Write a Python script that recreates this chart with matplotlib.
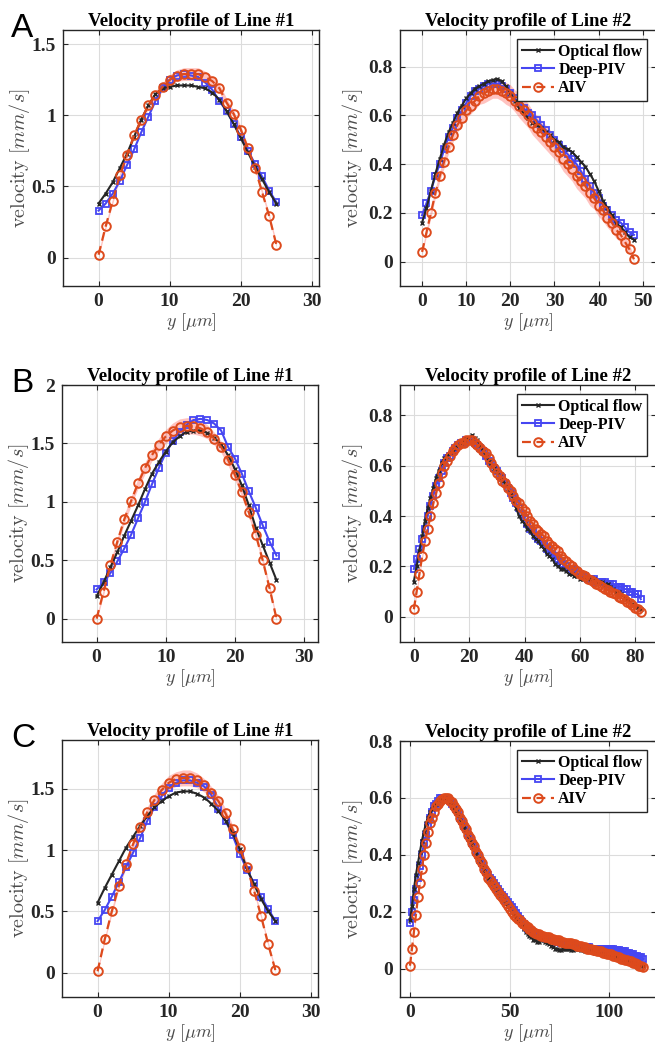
#!/usr/bin/env python
"""Velocity profiles of Line #1 / Line #2 for three cases (A, B, C): optical flow vs Deep-PIV vs AIV."""

import matplotlib

matplotlib.use("Agg")
import matplotlib.pyplot as plt
import numpy as np
from matplotlib.ticker import FuncFormatter

plt.rcParams["mathtext.fontset"] = "cm"
plt.rcParams["font.family"] = ["Liberation Serif", "DejaVu Serif"]

SERIES_NAMES = ["Optical flow", "Deep-PIV", "AIV"]

# ---- case A ----
A1_OPTICAL = [0.38, 0.45, 0.53, 0.63, 0.73, 0.85, 0.97, 1.07, 1.15, 1.19, 1.20, 1.21, 1.21, 1.21,
              1.20, 1.19, 1.16, 1.11, 1.03, 0.94, 0.84, 0.74, 0.64, 0.55, 0.46, 0.38]
A1_DEEPPIV = [0.33, 0.38, 0.45, 0.54, 0.65, 0.76, 0.88, 0.99, 1.10, 1.19, 1.25, 1.28, 1.29, 1.28,
              1.27, 1.23, 1.18, 1.10, 1.03, 0.94, 0.85, 0.75, 0.66, 0.57, 0.47, 0.39]
A1_AIV = [0.02, 0.22, 0.40, 0.58, 0.72, 0.86, 0.97, 1.07, 1.14, 1.20, 1.25, 1.28, 1.29, 1.29,
          1.29, 1.27, 1.24, 1.19, 1.09, 1.01, 0.90, 0.77, 0.63, 0.46, 0.29, 0.09]
A1_SPREAD = [0.02, 0.02, 0.02, 0.02, 0.02, 0.02, 0.025, 0.025, 0.03, 0.03, 0.035, 0.04, 0.045,
             0.045, 0.045, 0.04, 0.035, 0.03, 0.03, 0.025, 0.025, 0.02, 0.02, 0.02, 0.02, 0.02]

A2_OPTICAL = [0.16, 0.22, 0.29, 0.36, 0.42, 0.48, 0.53, 0.57, 0.61, 0.64, 0.67, 0.69, 0.71, 0.72,
              0.73, 0.74, 0.745, 0.75, 0.74, 0.72, 0.69, 0.66, 0.63, 0.61, 0.59, 0.57, 0.56, 0.55,
              0.53, 0.52, 0.50, 0.49, 0.47, 0.46, 0.45, 0.43, 0.41, 0.39, 0.36, 0.33, 0.29, 0.25,
              0.22, 0.19, 0.16, 0.14, 0.12, 0.10, 0.09]
A2_DEEPPIV = [0.19, 0.24, 0.29, 0.35, 0.40, 0.46, 0.51, 0.55, 0.59, 0.62, 0.65, 0.68, 0.70, 0.71,
              0.72, 0.73, 0.73, 0.73, 0.72, 0.71, 0.69, 0.67, 0.65, 0.63, 0.61, 0.60, 0.58, 0.56,
              0.54, 0.52, 0.50, 0.48, 0.46, 0.44, 0.42, 0.40, 0.37, 0.34, 0.31, 0.28, 0.26, 0.23,
              0.21, 0.19, 0.17, 0.16, 0.14, 0.12, 0.11]
A2_AIV = [0.04, 0.12, 0.20, 0.28, 0.35, 0.41, 0.47, 0.52, 0.56, 0.59, 0.62, 0.64, 0.66, 0.68,
          0.69, 0.70, 0.71, 0.71, 0.70, 0.69, 0.68, 0.66, 0.64, 0.62, 0.60, 0.57, 0.55, 0.53,
          0.51, 0.49, 0.47, 0.45, 0.42, 0.40, 0.38, 0.35, 0.33, 0.31, 0.28, 0.26, 0.23, 0.21,
          0.18, 0.16, 0.13, 0.11, 0.08, 0.05, 0.01]
A2_SPREAD = [0.01, 0.015, 0.02, 0.02, 0.02, 0.025, 0.025, 0.03, 0.03, 0.03, 0.03, 0.035, 0.035,
             0.035, 0.04, 0.04, 0.04, 0.04, 0.04, 0.045, 0.045, 0.045, 0.05, 0.05, 0.05, 0.05,
             0.05, 0.05, 0.05, 0.05, 0.05, 0.05, 0.05, 0.05, 0.05, 0.05, 0.05, 0.05, 0.05, 0.045,
             0.045, 0.045, 0.04, 0.04, 0.035, 0.03, 0.025, 0.02, 0.01]

# ---- case B ----
B1_OPTICAL = [0.19, 0.31, 0.44, 0.57, 0.71, 0.84, 0.97, 1.11, 1.24, 1.34, 1.43, 1.51, 1.56, 1.60,
              1.61, 1.61, 1.59, 1.55, 1.49, 1.40, 1.28, 1.14, 0.97, 0.78, 0.63, 0.48, 0.33]
B1_DEEPPIV = [0.25, 0.31, 0.39, 0.49, 0.60, 0.72, 0.86, 1.00, 1.15, 1.29, 1.42, 1.52, 1.60, 1.66,
              1.70, 1.71, 1.70, 1.67, 1.61, 1.47, 1.37, 1.24, 1.09, 0.95, 0.80, 0.66, 0.54]
B1_AIV = [0.00, 0.23, 0.46, 0.66, 0.85, 1.01, 1.16, 1.29, 1.40, 1.49, 1.56, 1.61, 1.64, 1.65,
          1.65, 1.63, 1.60, 1.54, 1.47, 1.36, 1.23, 1.08, 0.91, 0.72, 0.50, 0.26, 0.00]
B1_SPREAD = [0.02, 0.03, 0.03, 0.035, 0.04, 0.04, 0.045, 0.05, 0.05, 0.055, 0.06, 0.065, 0.07,
             0.07, 0.07, 0.065, 0.06, 0.055, 0.05, 0.05, 0.045, 0.04, 0.04, 0.035, 0.03, 0.03, 0.02]

B2_OPTICAL = [0.14, 0.20, 0.26, 0.32, 0.38, 0.43, 0.47, 0.51, 0.55, 0.58, 0.61, 0.63, 0.64, 0.65,
              0.66, 0.67, 0.68, 0.69, 0.70, 0.71, 0.71, 0.72, 0.71, 0.70, 0.68, 0.66, 0.64, 0.62,
              0.60, 0.59, 0.58, 0.56, 0.54, 0.53, 0.51, 0.49, 0.46, 0.43, 0.40, 0.38, 0.37, 0.35,
              0.34, 0.32, 0.31, 0.30, 0.28, 0.27, 0.25, 0.24, 0.23, 0.21, 0.20, 0.19, 0.19, 0.18,
              0.17, 0.17, 0.16, 0.16, 0.15, 0.15, 0.15, 0.15, 0.15, 0.15, 0.14, 0.14, 0.14, 0.13,
              0.13, 0.12, 0.11, 0.10, 0.10, 0.09, 0.08, 0.07, 0.06, 0.05, 0.04, 0.04, 0.03]
B2_DEEPPIV = [0.19, 0.23, 0.27, 0.31, 0.35, 0.40, 0.44, 0.48, 0.52, 0.55, 0.58, 0.61, 0.63, 0.64,
              0.66, 0.67, 0.68, 0.69, 0.69, 0.70, 0.70, 0.70, 0.69, 0.68, 0.67, 0.66, 0.64, 0.62,
              0.61, 0.59, 0.58, 0.56, 0.55, 0.53, 0.51, 0.49, 0.47, 0.45, 0.43, 0.41, 0.39, 0.37,
              0.35, 0.34, 0.32, 0.31, 0.30, 0.29, 0.27, 0.26, 0.25, 0.24, 0.23, 0.22, 0.21, 0.20,
              0.19, 0.19, 0.18, 0.17, 0.17, 0.16, 0.16, 0.15, 0.15, 0.15, 0.14, 0.14, 0.14, 0.14,
              0.13, 0.13, 0.13, 0.12, 0.12, 0.12, 0.11, 0.11, 0.10, 0.10, 0.09, 0.09, 0.07]
B2_AIV = [0.03, 0.10, 0.17, 0.24, 0.30, 0.35, 0.40, 0.45, 0.49, 0.53, 0.57, 0.60, 0.62, 0.64,
          0.66, 0.67, 0.68, 0.69, 0.69, 0.70, 0.70, 0.70, 0.69, 0.68, 0.67, 0.66, 0.65, 0.63,
          0.61, 0.59, 0.57, 0.56, 0.54, 0.53, 0.51, 0.50, 0.48, 0.46, 0.45, 0.43, 0.42, 0.40,
          0.38, 0.37, 0.35, 0.34, 0.33, 0.32, 0.30, 0.29, 0.28, 0.27, 0.26, 0.24, 0.23, 0.22,
          0.21, 0.20, 0.19, 0.18, 0.17, 0.165, 0.16, 0.15, 0.145, 0.14, 0.13, 0.125, 0.12, 0.11,
          0.105, 0.10, 0.095, 0.09, 0.08, 0.075, 0.07, 0.06, 0.055, 0.045, 0.035, 0.03, 0.02]
B2_SPREAD = 0.015

# ---- case C ----
C1_OPTICAL = [0.57, 0.69, 0.80, 0.91, 1.02, 1.11, 1.20, 1.28, 1.35, 1.40, 1.44, 1.47, 1.48, 1.48,
              1.46, 1.43, 1.38, 1.32, 1.24, 1.14, 1.01, 0.85, 0.72, 0.60, 0.50, 0.42]
C1_DEEPPIV = [0.42, 0.51, 0.62, 0.74, 0.86, 0.98, 1.10, 1.24, 1.35, 1.44, 1.51, 1.55, 1.57, 1.57,
              1.55, 1.52, 1.45, 1.34, 1.24, 1.12, 0.97, 0.84, 0.73, 0.62, 0.52, 0.42]
C1_AIV = [0.01, 0.27, 0.50, 0.71, 0.89, 1.05, 1.19, 1.31, 1.41, 1.49, 1.55, 1.58, 1.59, 1.59,
          1.57, 1.53, 1.47, 1.40, 1.30, 1.17, 1.02, 0.86, 0.67, 0.46, 0.23, 0.02]
C1_SPREAD = [0.02, 0.02, 0.025, 0.03, 0.03, 0.035, 0.04, 0.045, 0.05, 0.055, 0.06, 0.06, 0.065,
             0.065, 0.06, 0.055, 0.05, 0.045, 0.04, 0.035, 0.03, 0.03, 0.025, 0.02, 0.02, 0.02]

C2_OPTICAL = [0.17, 0.22, 0.28, 0.33, 0.37, 0.41, 0.45, 0.48, 0.51, 0.53,
              0.55, 0.56, 0.57, 0.58, 0.59, 0.60, 0.60, 0.60, 0.60, 0.59,
              0.585, 0.575, 0.565, 0.55, 0.54, 0.53, 0.51, 0.50, 0.48, 0.47,
              0.45, 0.44, 0.42, 0.41, 0.39, 0.38, 0.36, 0.35, 0.33, 0.32,
              0.31, 0.30, 0.29, 0.28, 0.27, 0.26, 0.25, 0.24, 0.23, 0.22,
              0.21, 0.20, 0.19, 0.18, 0.17, 0.16, 0.15, 0.14, 0.13, 0.12,
              0.115, 0.11, 0.10, 0.10, 0.095, 0.095, 0.10, 0.10, 0.095, 0.09,
              0.085, 0.08, 0.075, 0.07, 0.07, 0.065, 0.065, 0.07, 0.07, 0.07,
              0.07, 0.065, 0.065, 0.07, 0.07, 0.07, 0.065, 0.065, 0.06, 0.06,
              0.06, 0.06, 0.06, 0.055, 0.055, 0.055, 0.05, 0.05, 0.05, 0.045,
              0.045, 0.045, 0.04, 0.04, 0.04, 0.035, 0.035, 0.03, 0.03, 0.03,
              0.025, 0.025, 0.02, 0.02, 0.015, 0.015, 0.01, 0.01]
C2_DEEPPIV = [0.16, 0.20, 0.24, 0.28, 0.32, 0.36, 0.40, 0.44, 0.47, 0.50,
              0.53, 0.55, 0.57, 0.58, 0.59, 0.60, 0.60, 0.60, 0.60, 0.595,
              0.59, 0.58, 0.57, 0.56, 0.55, 0.53, 0.52, 0.50, 0.49, 0.47,
              0.46, 0.44, 0.43, 0.41, 0.40, 0.38, 0.37, 0.35, 0.34, 0.33,
              0.32, 0.31, 0.30, 0.29, 0.28, 0.27, 0.26, 0.25, 0.24, 0.235,
              0.225, 0.215, 0.205, 0.195, 0.185, 0.175, 0.165, 0.155, 0.145, 0.14,
              0.135, 0.13, 0.125, 0.12, 0.12, 0.115, 0.115, 0.11, 0.11, 0.105,
              0.105, 0.10, 0.10, 0.10, 0.095, 0.095, 0.09, 0.09, 0.09, 0.085,
              0.085, 0.085, 0.08, 0.08, 0.08, 0.08, 0.075, 0.075, 0.075, 0.075,
              0.075, 0.07, 0.07, 0.07, 0.07, 0.07, 0.07, 0.07, 0.07, 0.07,
              0.07, 0.07, 0.07, 0.065, 0.065, 0.065, 0.06, 0.06, 0.06, 0.055,
              0.055, 0.05, 0.05, 0.045, 0.045, 0.04, 0.04, 0.035]
C2_AIV = [0.01, 0.07, 0.13, 0.19, 0.25, 0.30, 0.35, 0.40, 0.44, 0.48,
          0.51, 0.53, 0.55, 0.57, 0.58, 0.59, 0.595, 0.60, 0.60, 0.60,
          0.59, 0.585, 0.57, 0.56, 0.55, 0.53, 0.52, 0.50, 0.49, 0.47,
          0.46, 0.44, 0.43, 0.41, 0.40, 0.38, 0.37, 0.35, 0.34, 0.32,
          0.31, 0.30, 0.29, 0.28, 0.27, 0.26, 0.25, 0.24, 0.23, 0.22,
          0.21, 0.20, 0.19, 0.18, 0.175, 0.17, 0.16, 0.155, 0.15, 0.145,
          0.14, 0.135, 0.13, 0.125, 0.12, 0.12, 0.115, 0.115, 0.11, 0.11,
          0.11, 0.105, 0.105, 0.10, 0.10, 0.10, 0.095, 0.095, 0.09, 0.09,
          0.09, 0.09, 0.085, 0.085, 0.08, 0.08, 0.08, 0.075, 0.075, 0.07,
          0.07, 0.07, 0.065, 0.065, 0.06, 0.06, 0.06, 0.055, 0.055, 0.05,
          0.05, 0.05, 0.045, 0.045, 0.04, 0.04, 0.035, 0.035, 0.03, 0.03,
          0.025, 0.025, 0.02, 0.02, 0.015, 0.01, 0.01, 0.005]
C2_SPREAD = 0.012

PANELS = [
    # letter, title, series, spread, xlim, ylim, xticks, yticks, legend
    ("A", "Velocity profile of Line #1", (A1_OPTICAL, A1_DEEPPIV, A1_AIV), A1_SPREAD,
     (-5, 31), (-0.2, 1.6), [0, 10, 20, 30], [0, 0.5, 1, 1.5], False),
    (None, "Velocity profile of Line #2", (A2_OPTICAL, A2_DEEPPIV, A2_AIV), A2_SPREAD,
     (-5, 53), (-0.1, 0.95), [0, 10, 20, 30, 40, 50], [0, 0.2, 0.4, 0.6, 0.8], True),
    ("B", "Velocity profile of Line #1", (B1_OPTICAL, B1_DEEPPIV, B1_AIV), B1_SPREAD,
     (-5, 32), (-0.2, 2.0), [0, 10, 20, 30], [0, 0.5, 1, 1.5, 2], False),
    (None, "Velocity profile of Line #2", (B2_OPTICAL, B2_DEEPPIV, B2_AIV), B2_SPREAD,
     (-5, 87.5), (-0.1, 0.92), [0, 20, 40, 60, 80], [0, 0.2, 0.4, 0.6, 0.8], True),
    ("C", "Velocity profile of Line #1", (C1_OPTICAL, C1_DEEPPIV, C1_AIV), C1_SPREAD,
     (-5, 31), (-0.2, 1.9), [0, 10, 20, 30], [0, 0.5, 1, 1.5], False),
    (None, "Velocity profile of Line #2", (C2_OPTICAL, C2_DEEPPIV, C2_AIV), C2_SPREAD,
     (-5, 123.5), (-0.1, 0.8), [0, 50, 100], [0, 0.2, 0.4, 0.6, 0.8], True),
]

# axes boxes in pixels: left, top, right, bottom
BOXES = [
    (63, 30, 319, 286), (400, 30, 656, 286),
    (62, 385, 318, 642), (400, 385, 656, 642),
    (62, 740, 318, 997), (400, 741, 656, 997),
]

FIG_W, FIG_H = 655, 1045
BLACK = "#262626"
BLUE = "#4646f2"
RED = "#dd4a1c"
BAND = "#ff3b30"
LABEL_GRAY = "#4a4a4a"


def tick_fmt(value, _pos):
    return f"{value:g}"


def draw_panel(fig, box, panel):
    letter, title, series, spread, xlim, ylim, xticks, yticks, legend = panel
    l, t, r, b = box
    ax = fig.add_axes([l / FIG_W, 1 - b / FIG_H, (r - l) / FIG_W, (b - t) / FIG_H])

    optical, deeppiv, aiv = (np.asarray(s, dtype=float) for s in series)
    y_pos = np.arange(len(aiv))
    spread = np.asarray(spread, dtype=float)

    ax.fill_between(y_pos, aiv - spread, aiv + spread, color=BAND, alpha=0.3, lw=0, zorder=1)
    ax.plot(y_pos, optical, color=BLACK, lw=1.5, marker="x", ms=3.5, mew=1.0,
            label=SERIES_NAMES[0], zorder=3)
    ax.plot(y_pos, deeppiv, color=BLUE, lw=1.5, marker="s", ms=4.5, mfc="none", mew=1.3,
            label=SERIES_NAMES[1], zorder=2)
    ax.plot(y_pos, aiv, color=RED, lw=1.6, ls=(0, (4, 2.5)), marker="o", ms=6.2, mfc="none",
            mew=1.4, label=SERIES_NAMES[2], zorder=4)

    ax.set_xlim(*xlim)
    ax.set_ylim(*ylim)
    ax.set_xticks(xticks)
    ax.set_yticks(yticks)
    ax.xaxis.set_major_formatter(FuncFormatter(tick_fmt))
    ax.yaxis.set_major_formatter(FuncFormatter(tick_fmt))
    ax.grid(True, color="#dcdcdc", lw=0.8)
    ax.set_axisbelow(True)
    ax.tick_params(direction="in", length=3.5, width=0.8, top=True, right=True,
                   labelsize=14, colors=BLACK, pad=5)
    for label in ax.get_xticklabels() + ax.get_yticklabels():
        label.set_fontweight("bold")
    for spine in ax.spines.values():
        spine.set_color(BLACK)
        spine.set_linewidth(1.0)

    ax.set_title(title, fontsize=13.5, fontweight="bold", pad=3)
    ax.set_xlabel(r"$y\ [\mu m]$", fontsize=13, color=LABEL_GRAY)
    ax.set_ylabel(r"$\mathrm{velocity}\ [mm/s]$", fontsize=14.5, color=LABEL_GRAY)
    ax.xaxis.set_label_coords(0.5, -25 / (b - t))
    label_gap = 35 if legend else 31
    ax.yaxis.set_label_coords(-label_gap / (r - l), 0.5)

    if legend:
        leg = ax.legend(loc="upper right", fancybox=False, framealpha=1, edgecolor=BLACK,
                        prop={"weight": "bold", "size": 11.5}, handlelength=2.0,
                        handletextpad=0.3, borderaxespad=0.55, labelspacing=0.15,
                        borderpad=0.3, numpoints=1)
        leg.get_frame().set_linewidth(1.0)

    if letter:
        fig.text(11 / FIG_W, 1 - (t - 17) / FIG_H, letter, fontsize=24, family="Liberation Sans",
                 ha="left", va="top")
    return ax


def main():
    fig = plt.figure(figsize=(FIG_W / 100, FIG_H / 100), dpi=100)
    for box, panel in zip(BOXES, PANELS):
        draw_panel(fig, box, panel)
    fig.savefig("out.png", dpi=100)
    plt.close(fig)


if __name__ == "__main__":
    main()
